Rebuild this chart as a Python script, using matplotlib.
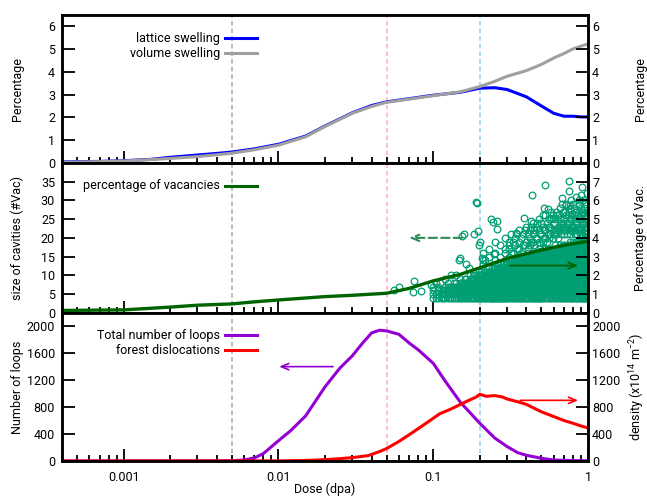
import matplotlib
matplotlib.use("Agg")
import matplotlib.pyplot as plt
from matplotlib.lines import Line2D
from matplotlib.ticker import FixedLocator, NullFormatter, FuncFormatter

plt.rcParams['font.family'] = ['Roboto', 'DejaVu Sans']
plt.rcParams['font.size'] = 9

# --- данные ---
# верхняя панель: распухание, %
lat_dose = [0.0004, 0.0007, 0.001, 0.0015, 0.002, 0.003, 0.004, 0.005, 0.007, 0.01,
            0.015, 0.02, 0.03, 0.04, 0.05, 0.07, 0.1, 0.15, 0.2, 0.25, 0.3, 0.35,
            0.4, 0.5, 0.6, 0.7, 0.8, 0.9, 1.0]
lat_swell = [0.05, 0.07, 0.1, 0.16, 0.25, 0.35, 0.42, 0.48, 0.62, 0.82,
             1.18, 1.62, 2.2, 2.52, 2.68, 2.82, 2.97, 3.1, 3.28, 3.3, 3.22, 3.05,
             2.9, 2.5, 2.18, 2.05, 2.05, 2.02, 2.02]
vol_dose = [0.0004, 0.0007, 0.001, 0.0015, 0.002, 0.003, 0.004, 0.005, 0.007, 0.01,
            0.015, 0.02, 0.03, 0.04, 0.05, 0.07, 0.1, 0.15, 0.2, 0.25, 0.3, 0.4,
            0.5, 0.6, 0.7, 0.8, 0.9, 1.0]
vol_swell = [0.03, 0.06, 0.09, 0.15, 0.2, 0.28, 0.36, 0.43, 0.58, 0.78,
             1.15, 1.6, 2.18, 2.48, 2.66, 2.8, 2.95, 3.12, 3.35, 3.58, 3.8, 4.05,
             4.32, 4.6, 4.8, 5.0, 5.12, 5.22]

# средняя панель: доля вакансий, % (правая ось)
vac_dose = [0.0004, 0.001, 0.002, 0.003, 0.005, 0.007, 0.01, 0.02, 0.03, 0.05,
            0.07, 0.1, 0.15, 0.2, 0.3, 0.4, 0.5, 0.7, 1.0]
vac_pct = [0.12, 0.15, 0.3, 0.4, 0.47, 0.58, 0.68, 0.86, 0.93, 1.04,
           1.3, 1.7, 2.05, 2.4, 2.9, 3.15, 3.35, 3.6, 3.82]

# размеры полостей (#Vac): плотные столбцы (все размеры от 4 до top)
cav_col_dose = [0.1, 0.104, 0.108, 0.112, 0.116, 0.12, 0.124, 0.128, 0.132, 0.136,
                0.14, 0.144, 0.148, 0.152, 0.156, 0.16, 0.164, 0.168, 0.172, 0.176,
                0.18, 0.184, 0.188, 0.192, 0.196,
                0.2, 0.204, 0.208, 0.212, 0.216, 0.22, 0.224, 0.228, 0.232, 0.236,
                0.24, 0.244, 0.248, 0.252, 0.256, 0.26, 0.264, 0.268, 0.272, 0.276,
                0.28, 0.284, 0.288, 0.292, 0.296,
                0.3, 0.307, 0.314, 0.321, 0.328, 0.335, 0.342, 0.349, 0.356, 0.363,
                0.37, 0.377, 0.384, 0.391, 0.398, 0.405, 0.412, 0.419, 0.426, 0.433,
                0.44, 0.447, 0.454, 0.461, 0.468, 0.475, 0.482, 0.489, 0.496,
                0.505, 0.52, 0.535, 0.55, 0.565, 0.58, 0.595, 0.61, 0.625, 0.64,
                0.655, 0.67, 0.685, 0.7, 0.715, 0.73, 0.745, 0.76, 0.775, 0.79,
                0.805, 0.82, 0.835, 0.85, 0.865, 0.88, 0.895, 0.91, 0.925, 0.94,
                0.955, 0.97, 0.985, 0.995]
cav_col_top = [6, 5, 7, 6, 6, 7, 8, 7, 7, 8,
               8, 7, 9, 8, 8, 9, 9, 8, 10, 9,
               9, 10, 10, 9, 10,
               10, 11, 10, 11, 11, 10, 11, 12, 11, 11,
               12, 11, 12, 12, 11, 12, 13, 12, 12, 13,
               12, 13, 13, 12, 13,
               13, 14, 13, 14, 13, 14, 14, 15, 14, 14,
               15, 14, 15, 15, 14, 15, 16, 15, 15, 16,
               15, 16, 16, 15, 16, 16, 17, 16, 16,
               16, 17, 16, 17, 17, 16, 17, 18, 17, 17,
               18, 17, 18, 18, 17, 18, 18, 19, 18, 18,
               19, 18, 19, 19, 18, 19, 19, 20, 19, 19,
               20, 19, 20, 20]
# отдельные полости над плотной областью
cav_pt_dose = [0.056, 0.06, 0.074, 0.075, 0.083, 0.097, 0.1, 0.104, 0.11, 0.12,
               0.13, 0.14, 0.147, 0.15, 0.153, 0.158, 0.163, 0.17, 0.18, 0.184,
               0.188, 0.193, 0.195, 0.198, 0.2, 0.207, 0.215, 0.236, 0.245, 0.248,
               0.259, 0.259, 0.342, 0.386, 0.427, 0.433, 0.523, 0.527, 0.55, 0.59,
               0.675, 0.72, 0.75, 0.75, 0.76, 0.88, 0.9, 0.91,
               0.21, 0.21, 0.21, 0.23, 0.23, 0.25, 0.25, 0.25, 0.27, 0.27,
               0.29, 0.29, 0.29, 0.31, 0.31, 0.32, 0.32, 0.34, 0.34, 0.36,
               0.36, 0.36, 0.38, 0.38, 0.4, 0.4, 0.42, 0.42, 0.42, 0.44,
               0.44, 0.44, 0.46, 0.46, 0.48, 0.48, 0.48, 0.5, 0.5, 0.53,
               0.53, 0.53, 0.55, 0.55, 0.58, 0.58, 0.58, 0.6, 0.6, 0.63,
               0.63, 0.66, 0.66, 0.66, 0.69, 0.69, 0.69, 0.72, 0.72, 0.72,
               0.75, 0.75, 0.78, 0.78, 0.78, 0.81, 0.81, 0.81, 0.84, 0.84,
               0.84, 0.87, 0.87, 0.87, 0.9, 0.9, 0.9, 0.93, 0.93, 0.93,
               0.96, 0.96, 0.96, 0.99, 0.99, 0.99]
cav_pt_size = [6.1, 7.0, 5.4, 8.4, 5.8, 7.5, 7.0, 7.9, 8.0, 9.0,
               10.0, 10.2, 14.2, 14.6, 20.5, 20.9, 12.9, 12.0, 11.0, 20.9,
               29.5, 29.3, 21.8, 18.2, 18.8, 14.7, 14.0, 25.0, 24.2, 15.6,
               24.5, 22.3, 21.4, 25.3, 24.6, 31.5, 28.1, 34.2, 27.8, 25.4,
               30.6, 28.8, 35.3, 32.6, 28.8, 28.8, 31.4, 33.7,
               13, 14, 16, 15, 17, 14, 16, 19, 15, 18,
               16, 17, 20, 17, 19, 16, 21, 18, 20, 17,
               19, 22, 18, 21, 19, 23, 18, 20, 22, 19,
               21, 24, 20, 23, 19, 22, 25, 21, 24, 20,
               22, 26, 21, 23, 22, 25, 27, 21, 24, 22,
               26, 23, 25, 28, 22, 24, 27, 23, 26, 29,
               24, 27, 22, 25, 30, 23, 26, 28, 24, 27,
               31, 22, 25, 29, 23, 26, 28, 24, 27, 30,
               22, 25, 29, 23, 26, 32]
# «облако» полостей над линией при больших дозах
cav_cloud_dose = [0.31, 0.31, 0.33, 0.33, 0.35, 0.35, 0.37, 0.37, 0.39, 0.39,
                  0.41, 0.41, 0.43, 0.43, 0.45, 0.45, 0.47, 0.47, 0.49, 0.49,
                  0.51, 0.51, 0.51, 0.52, 0.52, 0.54, 0.54, 0.56, 0.56, 0.57,
                  0.57, 0.59, 0.59, 0.61, 0.61, 0.62, 0.62, 0.64, 0.64, 0.65,
                  0.65, 0.67, 0.67, 0.68, 0.68, 0.7, 0.7, 0.71, 0.71, 0.73,
                  0.73, 0.74, 0.74, 0.76, 0.76, 0.77, 0.77, 0.79, 0.79, 0.8,
                  0.8, 0.82, 0.82, 0.83, 0.83, 0.85, 0.85, 0.86, 0.86, 0.88,
                  0.88, 0.89, 0.89, 0.91, 0.91, 0.92, 0.92, 0.94, 0.94, 0.95,
                  0.95, 0.97, 0.97, 0.98, 0.98]
cav_cloud_size = [15, 18, 16, 19, 17, 21, 16, 20, 18, 22,
                  17, 21, 19, 23, 18, 22, 20, 24, 18, 21,
                  19, 23, 26, 20, 22, 19, 24, 20, 25, 21,
                  23, 20, 26, 22, 25, 21, 27, 20, 23, 22,
                  26, 21, 24, 23, 29, 21, 25, 22, 27, 21,
                  24, 23, 26, 22, 25, 21, 28, 23, 26, 22,
                  29, 21, 25, 22, 27, 21, 24, 23, 26, 22,
                  30, 21, 25, 22, 27, 21, 24, 23, 28, 21,
                  26, 22, 24, 21, 27]

# нижняя панель: число петель и плотность дислокаций
loop_dose = [0.0004, 0.003, 0.005, 0.006, 0.007, 0.008, 0.01, 0.012, 0.015, 0.02,
             0.025, 0.03, 0.035, 0.04, 0.045, 0.05, 0.06, 0.07, 0.08, 0.1,
             0.12, 0.15, 0.2, 0.25, 0.3, 0.35, 0.4, 0.5, 0.6, 0.8, 1.0]
loop_num = [0, 0, 5, 15, 45, 110, 300, 450, 670, 1100,
            1380, 1560, 1750, 1900, 1940, 1930, 1880, 1750, 1650, 1450,
            1180, 870, 560, 340, 215, 125, 85, 40, 15, 6, 4]
forest_dose = [0.0004, 0.01, 0.015, 0.02, 0.025, 0.03, 0.038, 0.045, 0.05, 0.06,
               0.07, 0.08, 0.094, 0.11, 0.13, 0.15, 0.17, 0.19, 0.2, 0.22,
               0.25, 0.28, 0.3, 0.35, 0.4, 0.5, 0.6, 0.7, 0.8, 0.9, 1.0]
forest_rho = [0, 2, 8, 20, 35, 50, 80, 140, 185, 290,
              390, 480, 590, 700, 770, 840, 900, 950, 990, 960,
              970, 950, 920, 880, 840, 730, 660, 600, 560, 520, 490]

marker_doses = [0.005, 0.05, 0.2]
marker_colors = ['#a8a8a8', '#ffb0bc', '#8fd0ea']

W, H = 647, 498
fig = plt.figure(figsize=(W / 100, H / 100), dpi=100)

panels = [(14.7, 163.0), (163.0, 312.7), (312.7, 461.0)]
axes, twins = [], []
for top, bot in panels:
    ax = fig.add_axes([62 / W, 1 - bot / H, 526 / W, (bot - top) / H])
    tw = ax.twinx()
    axes.append(ax)
    twins.append(tw)

minor_x = [k * 10.0 ** e for e in range(-4, 0) for k in range(2, 10)]
minor_x = [v for v in minor_x if 0.0004 <= v < 1]

for i, (ax, tw) in enumerate(zip(axes, twins)):
    ax.set_xscale('log')
    ax.set_xlim(0.0004, 1)
    ax.xaxis.set_major_locator(FixedLocator([0.001, 0.01, 0.1, 1]))
    ax.xaxis.set_minor_locator(FixedLocator(minor_x))
    ax.xaxis.set_minor_formatter(NullFormatter())
    ax.xaxis.set_major_formatter(FuncFormatter(lambda v, p: f'{v:g}'))
    for a in (ax, tw):
        a.tick_params(which='major', direction='in', length=9, width=1.3)
        a.tick_params(which='minor', direction='in', length=4, width=1.3)
        for s in a.spines.values():
            s.set_linewidth(1.8)
    ax.tick_params(axis='x', top=False, pad=7)
    ax.tick_params(axis='y', right=False, pad=5)
    tw.tick_params(axis='y', pad=3)
    if i < 2:
        ax.tick_params(axis='x', labelbottom=False)
    for d, c in zip(marker_doses, marker_colors):
        ax.axvline(d, color=c, lw=1.1, ls=(0, (3, 2)), zorder=0.5)

# верхняя панель
ax, tw = axes[0], twins[0]
ax.plot(lat_dose, lat_swell, color='#0000ff', lw=2.2)
ax.plot(vol_dose, vol_swell, color='#a0a0a0', lw=2.2)
for a in (ax, tw):
    a.set_ylim(0, 6.5)
    a.set_yticks(range(0, 7))
    a.set_ylabel('Percentage')

# средняя панель
ax, tw = axes[1], twins[1]
cav_x = list(cav_pt_dose) + list(cav_cloud_dose)
cav_y = list(cav_pt_size) + list(cav_cloud_size)
for d, top in zip(cav_col_dose, cav_col_top):
    for s in range(4, top + 1):
        cav_x.append(d)
        cav_y.append(s)
ax.plot(cav_x, cav_y, 'o', mfc='none', mec='#009e73', ms=4.8, mew=0.9, zorder=2)
ax.set_ylim(0, 40)
ax.set_yticks(range(0, 40, 5))
ax.set_ylabel('size of cavities (#Vac)')
tw.plot(vac_dose, vac_pct, color='#006400', lw=2.4)
tw.set_ylim(0, 8)
tw.set_yticks(range(0, 8))
tw.set_ylabel('Percentage of Vac.')
tw.annotate('', xy=(0.067, 4.0), xytext=(0.16, 4.0),
            arrowprops=dict(arrowstyle='->,head_length=0.6,head_width=0.25',
                            color='#2e8b57', lw=1.5, ls=(0, (4, 2))))
tw.annotate('', xy=(0.9, 2.52), xytext=(0.3, 2.52),
            arrowprops=dict(arrowstyle='->,head_length=0.6,head_width=0.25',
                            color='#006400', lw=1.3))

# нижняя панель
ax, tw = axes[2], twins[2]
ax.plot(loop_dose, loop_num, color='#9400d3', lw=2.2)
ax.plot(forest_dose, forest_rho, color='#ff0000', lw=2.2)
for a in (ax, tw):
    a.set_ylim(0, 2200)
    a.set_yticks(range(0, 2001, 400))
ax.set_ylabel('Number of loops')
tw.set_ylabel('density (x10$^{\\mathregular{14}}$ m$^{\\mathregular{-2}}$)')
ax.set_xlabel('Dose (dpa)', labelpad=-1)
tw.annotate('', xy=(0.0097, 1400), xytext=(0.0235, 1400),
            arrowprops=dict(arrowstyle='->,head_length=0.6,head_width=0.25',
                            color='#9400d3', lw=1.2))
tw.annotate('', xy=(0.9, 900), xytext=(0.35, 900),
            arrowprops=dict(arrowstyle='->,head_length=0.6,head_width=0.25',
                            color='#ff0000', lw=1.2))

# подписи осей: слева якорь у правого края текста, справа у левого
for ax, tw in zip(axes, twins):
    ax.yaxis.set_label_coords((24 - 62) / 526, 0.5)
    tw.yaxis.set_label_coords((634 - 62) / 526, 0.5)
twins[2].yaxis.set_label_coords((627 - 62) / 526, 0.5)

# ключи легенды в стиле gnuplot
keys = [(38.3, 'lattice swelling', '#0000ff'),
        (53.3, 'volume swelling', '#a0a0a0'),
        (186.0, 'percentage of vacancies', '#006400'),
        (335.0, 'Total number of loops', '#9400d3'),
        (350.0, 'forest dislocations', '#ff0000')]
for y, label, color in keys:
    fy = 1 - y / H
    fig.text(220 / W, fy, label, ha='right', va='center')
    fig.add_artist(Line2D([225 / W, 257 / W], [fy, fy], color=color, lw=2.2))

fig.savefig('out.png', dpi=100)
